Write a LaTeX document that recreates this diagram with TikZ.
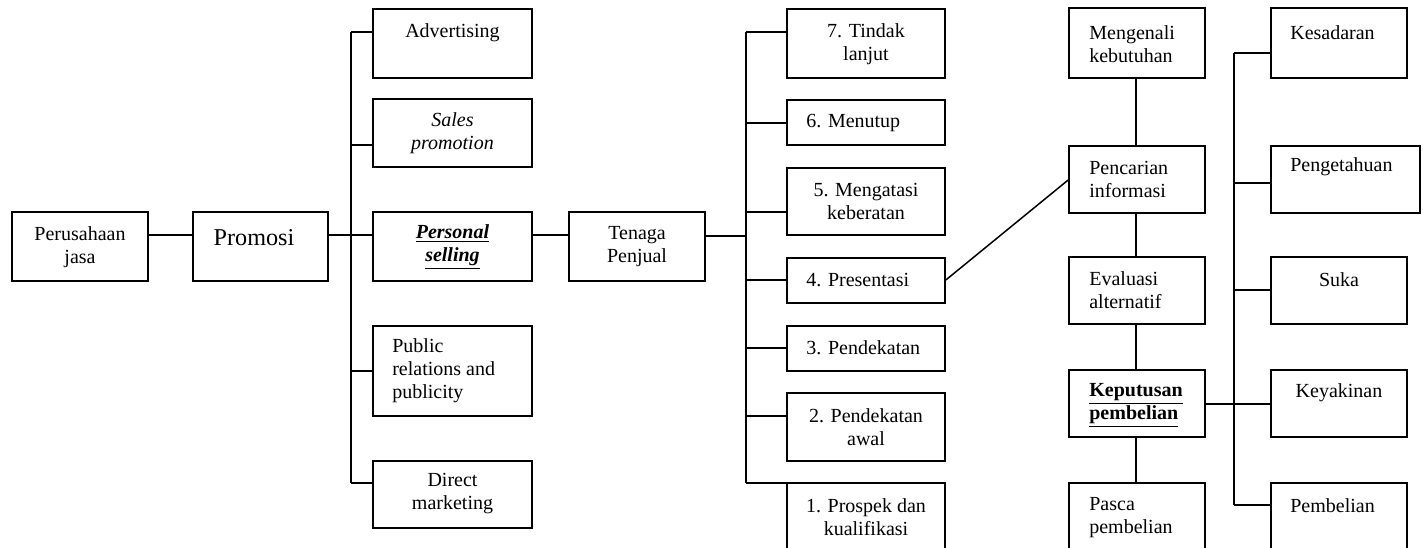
\documentclass[tikz,border=0pt]{standalone}
\usepackage{fontspec}
\setmainfont{Liberation Serif}
\usetikzlibrary{fit}
\tikzset{
  box/.style={draw, line width=1pt, inner sep=0pt, rectangle},
  txt/.style={inner sep=0pt, align=center, font=\fontsize{12}{13.8}\selectfont},
  ltxt/.style={inner sep=0pt, align=left, anchor=west, font=\fontsize{12}{13.8}\selectfont},
  con/.style={line width=0.9pt}
}
\begin{document}
\begin{tikzpicture}[x=0.6pt,y=-0.6pt]
\useasboundingbox (0,0) rectangle (1423,548);
\clip (0,0) rectangle (1423,548);
% boxes
\node[box, fit={(12,212) (148,281)}] (per) {};
\node[box, fit={(193,212) (328,281)}] (prom) {};
\node[box, fit={(373,9) (532,78)}] (adv) {};
\node[box, fit={(373,99) (532,167)}] (sp) {};
\node[box, fit={(373,212) (532,281)}] (ps) {};
\node[box, fit={(373,326) (532,416)}] (pr) {};
\node[box, fit={(373,461) (532,528)}] (dm) {};
\node[box, fit={(569,212) (705,281)}] (ten) {};
\node[box, fit={(787,9) (945,78)}] (s7) {};
\node[box, fit={(787,100) (945,145)}] (s6) {};
\node[box, fit={(787,168) (945,235)}] (s5) {};
\node[box, fit={(787,258) (945,303)}] (s4) {};
\node[box, fit={(787,326) (945,371)}] (s3) {};
\node[box, fit={(787,393) (945,461)}] (s2) {};
\node[box, fit={(787,483) (945,570)}] (s1) {};
\node[box, fit={(1069,8) (1205,78)}] (mk) {};
\node[box, fit={(1069,146) (1205,213)}] (pi) {};
\node[box, fit={(1069,257) (1205,324)}] (ea) {};
\node[box, fit={(1069,370) (1205,437)}] (kp) {};
\node[box, fit={(1069,483) (1205,570)}] (pa) {};
\node[box, fit={(1271,8) (1407,78)}] (kes) {};
\node[box, fit={(1271,146) (1420,213)}] (pen) {};
\node[box, fit={(1271,257) (1407,324)}] (suka) {};
\node[box, fit={(1271,370) (1407,437)}] (key) {};
\node[box, fit={(1271,483) (1407,570)}] (pem) {};
% texts
\node[txt] (per-t) at (80,247) {Perusahaan\\jasa};
\node[txt, font=\fontsize{14.5}{16}\selectfont] (prom-t) at (254,238) {Promosi};
\node[txt] (adv-t) at (452.5,33) {Advertising};
\node[txt, font=\fontsize{12}{13.8}\selectfont\itshape] (sp-t) at (452.5,133.5) {Sales\\promotion};
\node[txt, font=\fontsize{12}{13.8}\selectfont\bfseries\itshape] (ps-t) at (452.5,247) {\underline{Personal}\\\underline{selling}};
\node[ltxt] (pr-t) at (392,371) {Public\\relations and\\publicity};
\node[txt] (dm-t) at (452.5,494) {Direct\\marketing};
\node[txt] (ten-t) at (637,247) {Tenaga\\Penjual};
\node[txt] (s7-t) at (866,44) {7. Tindak\\lanjut};
\node[ltxt] (s6-t) at (806,123) {6. Menutup};
\node[txt] (s5-t) at (866,201) {5. Mengatasi\\keberatan};
\node[ltxt] (s4-t) at (806,280) {4. Presentasi};
\node[ltxt] (s3-t) at (806,348) {3. Pendekatan};
\node[txt] (s2-t) at (866,427) {2. Pendekatan\\awal};
\node[txt] (s1-t) at (866,517) {1. Prospek dan\\kualifikasi};
\node[ltxt] (mk-t) at (1089,44) {Mengenali\\kebutuhan};
\node[ltxt] (pi-t) at (1089,179) {Pencarian\\informasi};
\node[ltxt] (ea-t) at (1089,290) {Evaluasi\\alternatif};
\node[ltxt, font=\fontsize{12}{13.8}\selectfont\bfseries] (kp-t) at (1089,405) {\underline{Keputusan}\\\underline{pembelian}};
\node[ltxt] (pa-t) at (1089,518) {Pasca\\pembelian};
\node[ltxt] (kes-t) at (1290,33) {Kesadaran};
\node[ltxt] (pen-t) at (1290,167) {Pengetahuan};
\node[txt] (suka-t) at (1339,280) {Suka};
\node[txt] (key-t) at (1339,393) {Keyakinan};
\node[ltxt] (pem-t) at (1290,506) {Pembelian};
% junctions
\coordinate (a1) at (351,32);
\coordinate (a2) at (351,145);
\coordinate (a3) at (351,235);
\coordinate (a4) at (351,371);
\coordinate (a5) at (351,483);
\coordinate (b0) at (746,236);
\coordinate (b1) at (746,32);
\coordinate (b2) at (746,123);
\coordinate (b3) at (746,212);
\coordinate (b4) at (746,280);
\coordinate (b5) at (746,348);
\coordinate (b6) at (746,416);
\coordinate (b7) at (746,483);
\coordinate (c1) at (1234,53);
\coordinate (c2) at (1234,183);
\coordinate (c3) at (1234,290);
\coordinate (c4) at (1234,404);
\coordinate (c5) at (1234,505);
% connectors
\draw[con] (per.east |- a3) -- (prom.west |- a3);
\draw[con] (prom.east |- a3) -- (ps.west |- a3);
\draw[con] (a1) -- (a5);
\draw[con] (a1) -- (adv.west |- a1);
\draw[con] (a2) -- (sp.west |- a2);
\draw[con] (a4) -- (pr.west |- a4);
\draw[con] (a5) -- (dm.west |- a5);
\draw[con] (ps.east |- a3) -- (ten.west |- a3);
\draw[con] (ten.east |- b0) -- (b0);
\draw[con] (b1) -- (b7);
\draw[con] (b1) -- (s7.west |- b1);
\draw[con] (b2) -- (s6.west |- b2);
\draw[con] (b3) -- (s5.west |- b3);
\draw[con] (b4) -- (s4.west |- b4);
\draw[con] (b5) -- (s3.west |- b5);
\draw[con] (b6) -- (s2.west |- b6);
\draw[con] (b7) -- (s1.west |- b7);
\draw[con] (s4.east |- b4) -- (pi.west |- 0,180);
\draw[con] (mk.south -| 1136,0) -- (pi.north -| 1136,0);
\draw[con] (pi.south -| 1136,0) -- (ea.north -| 1136,0);
\draw[con] (ea.south -| 1136,0) -- (kp.north -| 1136,0);
\draw[con] (kp.south -| 1136,0) -- (pa.north -| 1136,0);
\draw[con] (kp.east |- c4) -- (key.west |- c4);
\draw[con] (c1) -- (c5);
\draw[con] (c1) -- (kes.west |- c1);
\draw[con] (c2) -- (pen.west |- c2);
\draw[con] (c3) -- (suka.west |- c3);
\draw[con] (c5) -- (pem.west |- c5);
\end{tikzpicture}
\end{document}
